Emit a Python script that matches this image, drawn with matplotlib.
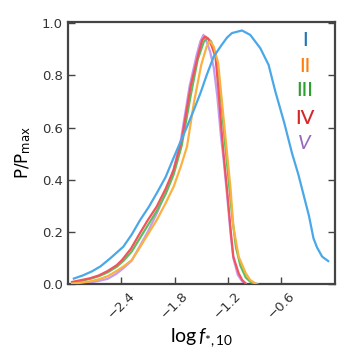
import matplotlib
matplotlib.use("Agg")
import matplotlib.pyplot as plt

plt.rcParams['mathtext.fontset'] = 'custom'
plt.rcParams['mathtext.rm'] = 'Lato'
plt.rcParams['mathtext.it'] = 'Lato:italic'

# model I (broad)
x_I = [-2.93, -2.83, -2.73, -2.63, -2.52, -2.375, -2.28, -2.187, -2.09, -2.0,
       -1.9, -1.82, -1.74, -1.66, -1.58, -1.51, -1.44, -1.36, -1.27, -1.21,
       -1.155, -1.043, -0.95, -0.837, -0.744, -0.67, -0.57, -0.48, -0.41, -0.35,
       -0.29, -0.24, -0.2, -0.143, -0.075]
y_I = [0.021, 0.033, 0.048, 0.068, 0.099, 0.143, 0.19, 0.245, 0.295, 0.348,
       0.41, 0.476, 0.54, 0.603, 0.67, 0.731, 0.8, 0.872, 0.917, 0.945,
       0.962, 0.972, 0.955, 0.904, 0.84, 0.74, 0.62, 0.5, 0.42, 0.34,
       0.26, 0.175, 0.14, 0.105, 0.088]

x_II = [-2.95, -2.85, -2.75, -2.65, -2.55, -2.45, -2.37, -2.28, -2.19, -2.1,
        -2.0, -1.9, -1.81, -1.73, -1.66, -1.58, -1.5, -1.44, -1.4, -1.36,
        -1.31, -1.27, -1.21, -1.17, -1.14, -1.08, -1.0, -0.95, -0.89]
y_II = [0.002, 0.005, 0.01, 0.018, 0.03, 0.05, 0.068, 0.092, 0.14, 0.19,
        0.245, 0.31, 0.373, 0.45, 0.527, 0.7, 0.84, 0.91, 0.93, 0.91,
        0.847, 0.706, 0.5, 0.36, 0.22, 0.105, 0.041, 0.015, 0.002]

x_III = [-2.95, -2.85, -2.75, -2.65, -2.55, -2.45, -2.37, -2.28, -2.19, -2.1,
         -2.0, -1.9, -1.81, -1.72, -1.62, -1.54, -1.47, -1.43, -1.39, -1.34,
         -1.31, -1.27, -1.23, -1.19, -1.15, -1.11, -1.06, -1.0, -0.94, -0.87]
y_III = [0.006, 0.012, 0.02, 0.03, 0.045, 0.066, 0.09, 0.125, 0.175, 0.225,
         0.28, 0.345, 0.42, 0.53, 0.72, 0.86, 0.93, 0.942, 0.93, 0.88,
         0.82, 0.68, 0.53, 0.39, 0.25, 0.14, 0.07, 0.025, 0.006, 0.0]

x_IV = [-2.95, -2.85, -2.75, -2.65, -2.55, -2.45, -2.39, -2.29, -2.19, -2.1,
        -2.0, -1.9, -1.81, -1.72, -1.62, -1.53, -1.49, -1.456, -1.42, -1.38,
        -1.34, -1.31, -1.27, -1.25, -1.21, -1.17, -1.14, -1.08, -1.04, -1.0]
y_IV = [0.008, 0.015, 0.022, 0.033, 0.05, 0.072, 0.092, 0.135, 0.194, 0.245,
        0.297, 0.365, 0.437, 0.552, 0.757, 0.885, 0.935, 0.949, 0.94, 0.91,
        0.87, 0.757, 0.58, 0.5, 0.36, 0.207, 0.105, 0.041, 0.015, 0.002]

x_V = [-2.95, -2.85, -2.75, -2.65, -2.55, -2.45, -2.37, -2.28, -2.19, -2.1,
       -2.0, -1.9, -1.81, -1.73, -1.63, -1.55, -1.51, -1.475, -1.44, -1.4,
       -1.36, -1.32, -1.28, -1.25, -1.21, -1.17, -1.14, -1.09, -1.04, -1.0]
y_V = [0.001, 0.003, 0.006, 0.012, 0.02, 0.04, 0.062, 0.09, 0.145, 0.2,
       0.27, 0.35, 0.44, 0.55, 0.76, 0.88, 0.93, 0.955, 0.93, 0.89,
       0.83, 0.72, 0.57, 0.48, 0.34, 0.19, 0.1, 0.035, 0.01, 0.001]

labels = ['I', 'II', 'III', 'IV', '$V$']
label_colors = ['#1f77b4', '#ff7f0e', '#2ca02c', '#d62728', '#9467bd']
line_colors = ['#4aa8e8', '#fbb040', '#5bbf5b', '#f2545c', '#c59cf0']
label_x = -0.34
label_y = [0.932, 0.833, 0.742, 0.636, 0.54]

fig = plt.figure(figsize=(3.54, 3.6), dpi=100)
ax = fig.add_axes([0.191, 0.211, 0.755, 0.729])

series = [(x_I, y_I), (x_II, y_II), (x_III, y_III), (x_IV, y_IV), (x_V, y_V)]
order = [4, 2, 3, 1, 0]
for i in order:
    xs, ys = series[i]
    ax.plot(xs, ys, color=line_colors[i], lw=1.6, zorder=2 + order.index(i))

for lab, col, yy in zip(labels, label_colors, label_y):
    ax.text(label_x, yy, lab, color=col, fontsize=14.5, family='Lato',
            weight='medium', ha='center', va='center')

ax.set_xlim(-3.0, 0.0)
ax.set_ylim(0.0, 1.006)
ax.set_xticks([-2.4, -1.8, -1.2, -0.6])
ax.set_yticks([0.0, 0.2, 0.4, 0.6, 0.8, 1.0])
ax.set_yticklabels(['0.0', '0.2', '0.4', '0.6', '0.8', '1.0'])
ax.tick_params(direction='in', length=5, width=1, colors='#444444',
               labelsize=9.5, labelcolor='#333333', right=True, top=False)
for lbl in ax.get_xticklabels():
    lbl.set_rotation(45)
for sp in ax.spines.values():
    sp.set_linewidth(1.6)
    sp.set_color('#444444')

ax.set_ylabel('P/P$_\\mathregular{max}$', fontsize=12, labelpad=6)
ax.set_xlabel('$\\mathrm{log}\\,f_{*,10}$', fontsize=14, labelpad=4)

fig.savefig('out.png', dpi=100)
